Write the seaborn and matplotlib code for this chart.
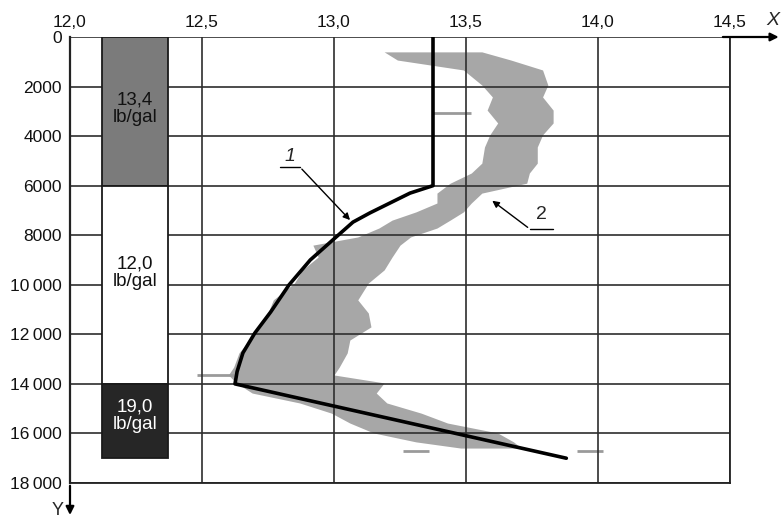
import matplotlib
matplotlib.use('Agg')
import matplotlib.pyplot as plt
import seaborn as sns
import numpy as np

# === DATA ===
# mud weight column: interval tops / bottoms (ft) and label
mud_top = [0, 6000, 14000]
mud_bottom = [6000, 14000, 17000]
mud_labels = ['13,4\nlb/gal', '12,0\nlb/gal', '19,0\nlb/gal']
mud_label_depth = [2900, 9500, 15300]
mud_colors = ['#7b7b7b', '#ffffff', '#262626']
mud_text_colors = ['#111111', '#111111', '#ffffff']

# curve 1 (design profile)
curve1_x = [13.375, 13.375, 13.288, 13.212, 13.136, 13.072, 13.004, 12.91, 12.83, 12.76,
            12.70, 12.655, 12.633, 12.625, 13.88]
curve1_depth = [0, 6000, 6300, 6700, 7100, 7470, 8110, 9000, 10000, 11100,
                11950, 12750, 13500, 14000, 17000]

# curve 2 (measured band): depth with left / right edge
band_depth = [600, 930, 1330, 1940, 2420, 2950, 3470, 3950, 4440, 5090, 5490, 5900,
              6300, 6700, 7060, 7390, 7710, 8070, 8400, 8880, 9400, 9930, 10610, 11140,
              11700, 12230, 12750, 13320, 13640, 13960, 14370, 14770, 15180, 15580,
              15980, 16340, 16590]
band_left = [13.19, 13.24, 13.49, 13.56, 13.60, 13.58, 13.62, 13.59, 13.57, 13.56, 13.52, 13.44,
             13.39, 13.39, 13.31, 13.22, 13.17, 13.09, 12.92, 12.94, 12.88, 12.85, 12.77, 12.75,
             12.71, 12.68, 12.64, 12.62, 12.60, 12.63, 12.69, 12.87, 12.99, 13.06,
             13.15, 13.31, 13.48]
band_right = [13.56, 13.67, 13.79, 13.81, 13.79, 13.83, 13.83, 13.79, 13.77, 13.77, 13.74, 13.73,
              13.56, 13.52, 13.49, 13.44, 13.39, 13.29, 13.25, 13.22, 13.19, 13.13, 13.09, 13.13,
              13.14, 13.06, 13.05, 13.02, 13.00, 13.19, 13.16, 13.20, 13.33, 13.43,
              13.62, 13.68, 13.71]
# stray streaks of curve 2
stray_depth = [3070, 13640, 16700, 16700]
stray_x0 = [13.37, 12.48, 13.26, 13.92]
stray_x1 = [13.52, 12.62, 13.36, 14.02]

x_ticks = [12.0, 12.5, 13.0, 13.5, 14.0, 14.5]
x_tick_labels = ['12,0', '12,5', '13,0', '13,5', '14,0', '14,5']
y_ticks = [0, 2000, 4000, 6000, 8000, 10000, 12000, 14000, 16000, 18000]
y_tick_labels = ['0', '2000', '4000', '6000', '8000', '10\u2009000', '12\u2009000',
                 '14\u2009000', '16\u2009000', '18\u2009000']

# === STYLE ===
sns.set_theme(style="white")
plt.rcParams['font.family'] = ['Liberation Sans', 'DejaVu Sans']

fig = plt.figure(figsize=(7.83, 5.19), dpi=100)
ax = fig.add_axes([70 / 783, 1 - 483 / 519, 660 / 783, 446 / 519])

# measured band (curve 2)
ax.fill_betweenx(band_depth, band_left, band_right, color='#a7a7a7', lw=0, zorder=1)
ax.hlines(stray_depth, stray_x0, stray_x1, color='#9a9a9a', lw=2, zorder=1)

# mud weight column
for top, bot, lab, ld, col, tcol in zip(mud_top, mud_bottom, mud_labels, mud_label_depth,
                                        mud_colors, mud_text_colors):
    ax.barh(y=(top + bot) / 2, width=0.25, height=bot - top, left=12.121,
            color=col, edgecolor='#1a1a1a', lw=1.3, zorder=2)
    ax.text(12.246, ld, lab, ha='center', va='center',
            fontsize=13.5, color=tcol, zorder=3, linespacing=1.05)

# design curve (curve 1)
sns.lineplot(x=curve1_x, y=curve1_depth, sort=False, estimator=None, color='black',
             lw=2.6, ax=ax, zorder=4)

# annotations 1 and 2
ax.text(12.833, 4840, '1', fontsize=14, style='italic', ha='center', va='center')
ax.plot([12.795, 12.871], [5250, 5250], color='black', lw=1)
ax.annotate('', xy=(13.068, 7470), xytext=(12.871, 5250),
            arrowprops=dict(arrowstyle='-|>', color='black', lw=1, mutation_scale=10))
ax.text(13.784, 7180, '2', fontsize=14, ha='center', va='center')
ax.plot([13.742, 13.83], [7750, 7750], color='black', lw=1)
ax.annotate('', xy=(13.591, 6540), xytext=(13.742, 7750),
            arrowprops=dict(arrowstyle='-|>', color='black', lw=1, mutation_scale=10))

# axes
ax.set_xlim(12.0, 14.5)
ax.set_ylim(18000, 0)
ax.xaxis.tick_top()
ax.set_xticks(x_ticks)
ax.set_xticklabels(x_tick_labels)
ax.set_yticks(y_ticks)
ax.set_yticklabels(y_tick_labels)
ax.tick_params(axis='x', length=0, pad=5, labelsize=12.5, colors='#111111')
ax.tick_params(axis='y', length=0, pad=6, labelsize=12.5, colors='#111111')
ax.set_axisbelow('line')
ax.grid(True, color='#2e2e2e', lw=1.2)
ax.spines['top'].set_visible(False)
for s in ['left', 'bottom', 'right']:
    ax.spines[s].set_color('#222222')
    ax.spines[s].set_linewidth(1.3)
ax.spines['left'].set_linewidth(1.6)

# axis arrows
ax.annotate('', xy=(0, -0.078), xytext=(0, 0), xycoords='axes fraction',
            arrowprops=dict(arrowstyle='-|>', color='black', lw=1.6, mutation_scale=12))
ax.annotate('', xy=(1.078, 1.0), xytext=(0.985, 1.0), xycoords='axes fraction',
            arrowprops=dict(arrowstyle='-|>', color='black', lw=1.6, mutation_scale=12))
ax.text(-0.01, -0.062, 'Y', transform=ax.transAxes, fontsize=13, ha='right', va='center')
ax.text(1.065, 1.038, 'X', transform=ax.transAxes, fontsize=14, style='italic',
        ha='center', va='center')

fig.savefig('out.png', dpi=100)
